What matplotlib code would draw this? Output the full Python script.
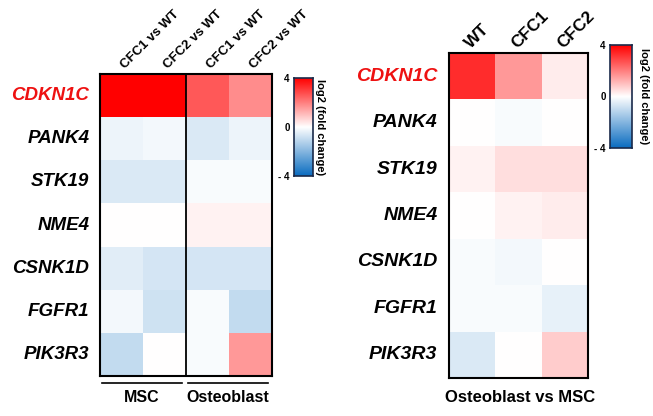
import numpy as np
import matplotlib
matplotlib.use("Agg")
import matplotlib.pyplot as plt
from matplotlib.colors import LinearSegmentedColormap, Normalize
from matplotlib.lines import Line2D

plt.rcParams['font.family'] = ['Liberation Sans', 'DejaVu Sans']

genes = ["CDKN1C", "PANK4", "STK19", "NME4", "CSNK1D", "FGFR1", "PIK3R3"]
left_cols = ["CFC1 vs WT", "CFC2 vs WT", "CFC1 vs WT", "CFC2 vs WT"]
left_groups = ["MSC", "Osteoblast"]
left_vals = [
    [4.5, 4.5, 2.6, 1.8],
    [-0.3, -0.2, -0.6, -0.3],
    [-0.6, -0.6, -0.1, -0.1],
    [0.0, 0.0, 0.2, 0.2],
    [-0.5, -0.7, -0.7, -0.7],
    [-0.2, -0.8, -0.1, -1.0],
    [-1.0, 0.0, -0.1, 1.6],
]
right_cols = ["WT", "CFC1", "CFC2"]
right_title = "Osteoblast vs MSC"
right_vals = [
    [3.3, 1.6, 0.3],
    [0.0, -0.1, 0.0],
    [0.2, 0.5, 0.5],
    [0.0, 0.2, 0.3],
    [-0.1, -0.2, 0.0],
    [-0.1, -0.1, -0.4],
    [-0.6, 0.0, 0.8],
]
cbar_ticks = [4, 0, -4]
cbar_ticklabels = ["4", "0", "- 4"]
cbar_label = "log2 (fold change)"

W, H = 653, 416
fig = plt.figure(figsize=(W / 100, H / 100), dpi=100)

cmap = LinearSegmentedColormap.from_list("bwr2", ["#0a6cc0", "#ffffff", "#ff0000"])
norm = Normalize(vmin=-4, vmax=4)


def fax(x0, y0, x1, y1):
    return fig.add_axes([x0 / W, 1 - y1 / H, (x1 - x0) / W, (y1 - y0) / H])


def heat(ax, vals, ncol, fs):
    data = np.array(vals)
    ax.pcolormesh(np.arange(ncol + 1), np.arange(len(genes) + 1), data,
                  cmap=cmap, norm=norm, shading='flat')
    ax.set_xlim(0, ncol)
    ax.set_ylim(len(genes), 0)
    ax.set_xticks([])
    ax.set_yticks([])
    for s in ax.spines.values():
        s.set_linewidth(1.5)
    for i, g in enumerate(genes):
        ax.text(-0.25, i + 0.5, g, ha='right', va='center', fontsize=fs,
                fontweight='bold', fontstyle='italic',
                color='#ee1111' if g == "CDKN1C" else 'black',
                transform=ax.transData, clip_on=False)


def cbar(x0, y0, x1, y1, lab_x):
    cax = fax(x0, y0, x1, y1)
    grad = np.linspace(-4, 4, 256).reshape(-1, 1)
    cax.imshow(grad, cmap=cmap, norm=norm, aspect='auto', origin='lower',
               extent=[0, 1, -4, 4])
    cax.set_xticks([])
    cax.set_yticks(cbar_ticks)
    cax.set_yticklabels(cbar_ticklabels, fontsize=7, fontweight='bold')
    cax.tick_params(axis='y', length=0, pad=3)
    for s in cax.spines.values():
        s.set_linewidth(1.2)
        s.set_color('#1a2a4a')
    fig.text(lab_x / W, 1 - ((y0 + y1) / 2) / H, cbar_label, rotation=270,
             ha='center', va='center', fontsize=8, fontweight='bold')


# Left heatmap
axL = fax(100, 74, 272, 376)
heat(axL, left_vals, 4, 13.5)
axL.axvline(2, color='black', lw=1.3)
for j, c in enumerate(left_cols):
    axL.text(j + 0.62, -0.07, c, rotation=45, rotation_mode='anchor',
             ha='left', va='bottom', fontsize=9.5, fontweight='bold')
cbar(294, 78, 313, 176, 320)

# group lines
for (xa, xb), g in zip([(102, 182), (188, 268)], left_groups):
    fig.add_artist(Line2D([xa / W, xb / W], [1 - 383 / H, 1 - 383 / H],
                          color='black', lw=1.2))
    fig.text(((xa + xb) / 2) / W, 1 - 397 / H, g, ha='center', va='center',
             fontsize=11.5, fontweight='bold')

# Right heatmap
axR = fax(449, 53, 588, 378)
heat(axR, right_vals, 3, 14)
for j, c in enumerate(right_cols):
    axR.text(j + 0.52, -0.04, c, rotation=45, rotation_mode='anchor',
             ha='left', va='bottom', fontsize=12.5, fontweight='bold')
cbar(610, 45, 632, 148, 644)
fig.text(520 / W, 1 - 397 / H, right_title, ha='center', va='center',
         fontsize=12, fontweight='bold')

fig.savefig("out.png", dpi=100)
